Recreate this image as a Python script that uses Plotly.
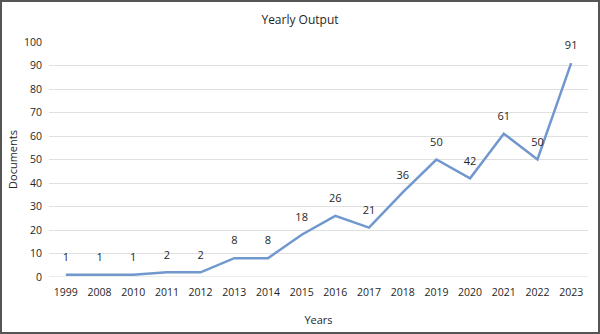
import plotly.graph_objects as go

years = ["1999", "2008", "2010", "2011", "2012", "2013", "2014", "2015",
         "2016", "2017", "2018", "2019", "2020", "2021", "2022", "2023"]
documents = [1, 1, 1, 2, 2, 8, 8, 18, 26, 21, 36, 50, 42, 61, 50, 91]
y_ticks = list(range(0, 101, 10))

FONT = "Open Sans, Liberation Sans, sans-serif"

fig = go.Figure()
fig.add_trace(go.Scatter(
    x=years, y=documents, mode="lines+markers+text",
    text=[str(v) for v in documents], textposition="top center",
    textfont=dict(family=FONT, size=11, color="#262626"),
    marker=dict(size=16, color="rgba(0,0,0,0)"),
    line=dict(color="#7098CF", width=2.5),
    cliponaxis=False, hoverinfo="skip", showlegend=False,
))

L, R, T, B = 49, 12, 42, 57
W, H = 600, 334
pw, ph = W - L - R, H - T - B

fig.update_layout(
    width=W, height=H,
    margin=dict(l=L, r=R, t=T, b=B),
    paper_bgcolor="white", plot_bgcolor="white",
    title=dict(text="Yearly Output", x=0.5, xanchor="center", y=1 - 20 / H, yanchor="middle",
               font=dict(family=FONT, size=12, color="#262626")),
    xaxis=dict(type="category", range=[-0.5, len(years) - 0.5], showgrid=False,
               showline=False, ticks="", zeroline=False, ticklabelstandoff=7,
               automargin=False,
               tickfont=dict(family=FONT, size=10.5, color="#262626"),
               title=dict(text="Years", font=dict(family=FONT, size=11, color="#262626"), standoff=18)),
    yaxis=dict(range=[0, 100], tickvals=y_ticks, showgrid=True, gridcolor="#E0E0E0",
               gridwidth=1, zeroline=False, showline=False, ticks="",
               automargin=False,
               tickfont=dict(family=FONT, size=10.5, color="#262626"), ticklabelstandoff=6,
               title=dict(text="Documents", font=dict(family=FONT, size=11, color="#262626"), standoff=4)),
)

fig.add_shape(type="line", xref="x", yref="y", x0=-0.5, x1=len(years) - 0.5, y0=0, y1=0,
              line=dict(color="#D9D9D9", width=1), layer="below")

fig.add_shape(type="rect", xref="paper", yref="paper",
              x0=-(L - 1) / pw, x1=1 + (R - 1) / pw,
              y0=-(B - 1) / ph, y1=1 + (T - 1) / ph,
              line=dict(color="#555555", width=2), fillcolor="rgba(0,0,0,0)")

fig.write_html("out.html")
